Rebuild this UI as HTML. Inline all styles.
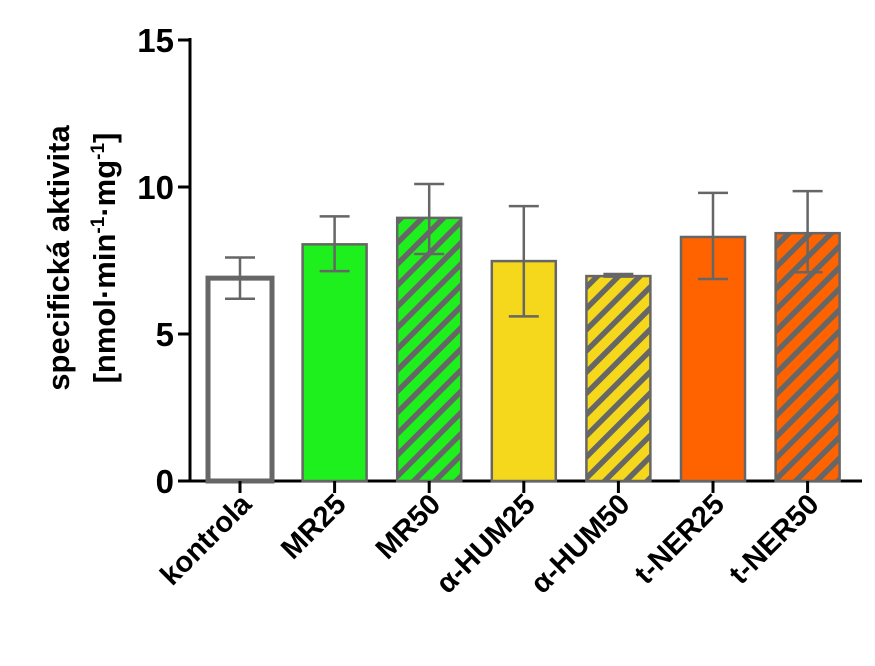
<!DOCTYPE html>
<html><head><meta charset="utf-8"><style>
body{margin:0;background:#fff;width:875px;height:661px;overflow:hidden}
text{font-family:"Liberation Sans",Arial,sans-serif;font-weight:bold}
</style></head><body>
<svg id="chart" width="875" height="661">
<defs>
<pattern id="h-green" width="15" height="15" patternUnits="userSpaceOnUse" patternTransform="rotate(45)"><rect width="15" height="15" fill="#1ef01e"/><rect width="5.5" height="15" fill="#666"/></pattern>
<pattern id="h-yellow" width="15" height="15" patternUnits="userSpaceOnUse" patternTransform="rotate(45)"><rect width="15" height="15" fill="#f5d81c"/><rect width="5.5" height="15" fill="#666"/></pattern>
<pattern id="h-orange" width="15" height="15" patternUnits="userSpaceOnUse" patternTransform="rotate(45)"><rect width="15" height="15" fill="#ff6300"/><rect width="5.5" height="15" fill="#666"/></pattern>
</defs>
<g id="plot"></g>
<text transform="translate(69,258) rotate(-90)" text-anchor="middle" font-size="31">specifická aktivita</text>
<text transform="translate(115,258) rotate(-90)" text-anchor="middle" font-size="31">[nmol·min<tspan font-size="19" dy="-11">-1</tspan><tspan dy="11">·mg</tspan><tspan font-size="19" dy="-11">-1</tspan><tspan dy="11">]</tspan></text>
</svg>
<script>
const categories=["kontrola","MR25","MR50","α-HUM25","α-HUM50","t-NER25","t-NER50"];
const values=[6.9,8.05,8.95,7.48,6.97,8.3,8.43];
const errLow=[6.2,7.14,7.72,5.6,6.95,6.87,7.1];
const errHigh=[7.6,9.0,10.1,9.35,7.04,9.8,9.86];
const fills=["#fff","#1ef01e","url(#h-green)","#f5d81c","url(#h-yellow)","#ff6300","url(#h-orange)"];
const yTicks=[0,5,10,15];
const ns="http://www.w3.org/2000/svg";
const g=document.getElementById("plot");
const y=v=>481-v*29.4;
const x=i=>240+i*94.6;
function mk(t,a,p){const e=document.createElementNS(ns,t);for(const k in a)e.setAttribute(k,a[k]);(p||g).appendChild(e);return e;}
let ax=mk("line",{x1:190,y1:38,x2:190,y2:482,stroke:"#000","stroke-width":3});


let xa=mk("line",{x1:189,y1:481,x2:862,y2:481,stroke:"#000","stroke-width":3});


yTicks.forEach(t=>{
  const l=mk("line",{x1:178,x2:190,y1:y(t),y2:y(t),stroke:"#000","stroke-width":3});
  
  
  const tx=mk("text",{x:174,y:y(t)+12,"text-anchor":"end","font-size":33});
  tx.textContent=t;
  
  
});
categories.forEach((c,i)=>{
  const cx=x(i),w=64;
  const k=i===0;
  const r=mk("rect",{x:cx-w/2,y:y(values[i]),width:w,height:y(0)-y(values[i]),fill:fills[i],stroke:"#666","stroke-width":k?5:2.5});
  
  
  const e=mk("path",{d:`M${cx} ${y(errLow[i])}V${y(errHigh[i])}M${cx-15} ${y(errHigh[i])}h30M${cx-15} ${y(errLow[i])}h30`,stroke:"#666","stroke-width":2.5,fill:"none"});
  
  
  const tk=mk("line",{x1:cx,x2:cx,y1:481,y2:493,stroke:"#000","stroke-width":3});
  
  
  const tx=mk("text",{transform:`translate(${cx+13},${506}) rotate(-45)`,"text-anchor":"end","font-size":29});
  tx.textContent=c;
  
  
});
</script>
</body></html>
